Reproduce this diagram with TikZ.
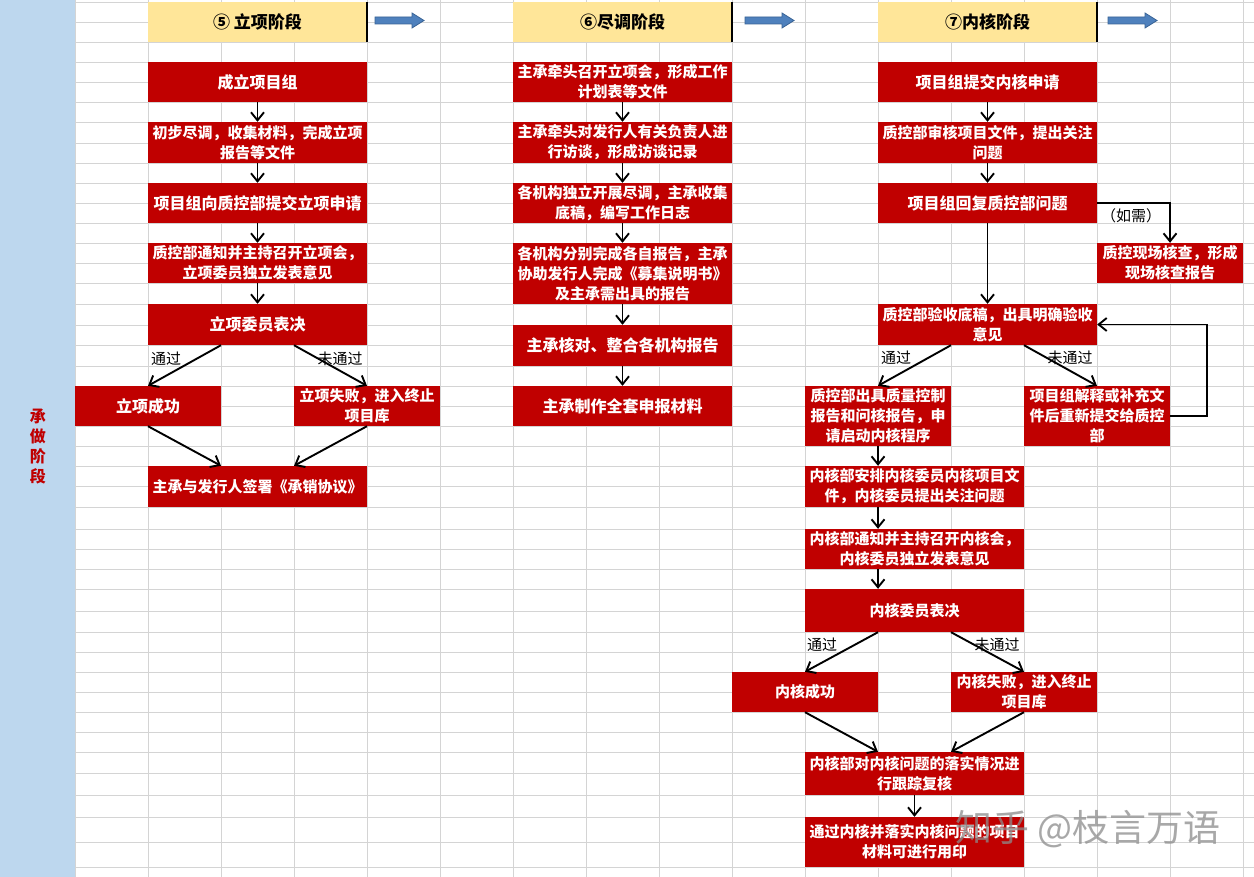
\documentclass[tikz,border=0pt]{standalone}
\usepackage{fontspec}
\newfontfamily\cjk{Noto Sans CJK SC}
\usetikzlibrary{arrows.meta}

\definecolor{boxred}{HTML}{C00000}
\definecolor{hdryellow}{HTML}{FFE699}
\definecolor{sideblue}{HTML}{BDD7EE}
\definecolor{cellline}{HTML}{D4D4D4}
\definecolor{arrblue}{HTML}{4F81BD}
\definecolor{arredge}{HTML}{3A6496}

\tikzset{
    box/.style={fill=boxred, text=white, font=\cjk\bfseries\fontsize{15}{20}\selectfont,
        align=center, inner sep=0pt, minimum width=219pt, minimum height=40pt},
    half/.style={minimum width=146pt},
    big/.style={font=\cjk\bfseries\fontsize{16}{20}\selectfont},
    hdr/.style={fill=hdryellow, font=\cjk\bfseries\fontsize{17}{20}\selectfont,
        inner sep=0pt, minimum width=219pt, minimum height=40pt},
    lbl/.style={font=\cjk\fontsize{15}{18}\selectfont, inner sep=0pt},
    arr/.style={line width=1.9pt, -{Straight Barb[length=8pt,width=13pt]}},
    gridln/.style={draw=cellline, line width=0.8pt},
    stagearr/.style={fill=arrblue, draw=arredge, line width=0.8pt},
    wmark/.style={font=\cjk\fontsize{37}{40}\selectfont, text=black!45, opacity=0.75, inner sep=0pt}
}

\begin{document}
\begin{tikzpicture}[x=1pt, y=-1pt]
    \useasboundingbox (0,0) rectangle (1254,877);
    \fill[white] (0,0) rectangle (1254,877);

    % sheet grid
    \foreach \gx in {75,148,...,1243}
        \draw[gridln] (\gx,0) -- (\gx,877);
    \foreach \gy in {2,22,42,62,82,102,122,143,163,183,203,223,243,263,283,304,325,345,366,386,406,426,446,466,486,507,529,549,569,589,611,632,652,672,692,712,732,752,773,795,817,842,867}
        \draw[gridln] (0,\gy) -- (1254,\gy);

    \fill[sideblue] (0,0) rectangle (75,877);
    \node[font=\cjk\bfseries\fontsize{16}{20}\selectfont, text=boxred, align=center, inner sep=0pt] (side) at (38,447) {承\\做\\阶\\段};

    % stage headers
    \node[hdr] (hd5) at (257.5,22) {⑤ 立项阶段};
    \node[hdr] (hd6) at (622.5,22) {⑥尽调阶段};
    \node[hdr] (hd7) at (987.5,22) {⑦内核阶段};
    \foreach \hd in {hd5,hd6,hd7}
        \draw[line width=1.6pt] (\hd.north east) -- (\hd.south east);
    \foreach \ax in {375,745,1108}
        \filldraw[stagearr] (\ax,17) -- ++(37,0) -- ++(0,-4) -- ++(12,7.5) -- ++(-12,7.5) -- ++(0,-4) -- ++(-37,0) -- cycle;

    % 立项
    \node[box,big] (lxteam) at (257.5,82) {成立项目组};
    \node[box, minimum height=41pt] (lxdd) at (257.5,142.5) {初步尽调，收集材料，完成立项\\报告等文件};
    \node[box,big] (lxapply) at (257.5,203) {项目组向质控部提交立项申请};
    \node[box] (lxmeet) at (257.5,263) {质控部通知并主持召开立项会，\\立项委员独立发表意见};
    \node[box,big, minimum height=41pt] (lxvote) at (257.5,324.5) {立项委员表决};
    \node[box,big,half] (lxok) at (148,406) {立项成功};
    \node[box,half] (lxfail) at (367,406) {立项失败，进入终止\\项目库};
    \node[box, minimum height=41pt] (lxsign) at (257.5,486.5) {主承与发行人签署《承销协议》};

    \draw[arr] (lxteam.south) -- (lxdd.north);
    \draw[arr] (lxdd.south) -- (lxapply.north);
    \draw[arr] (lxapply.south) -- (lxmeet.north);
    \draw[arr] (lxmeet.south) -- (lxvote.north);
    \draw[arr] ([xshift=-36.5pt]lxvote.south) -- (lxok.north);
    \draw[arr] ([xshift=36.5pt]lxvote.south) -- (lxfail.north);
    \draw[arr] (lxok.south) -- ([xshift=-36.5pt]lxsign.north);
    \draw[arr] (lxfail.south) -- ([xshift=36.5pt]lxsign.north);
    \node[lbl] (lxyes) at (166,359) {通过};
    \node[lbl] (lxno) at (340,359) {未通过};

    % 尽调
    \node[box] (ddkick) at (622.5,82) {主承牵头召开立项会，形成工作\\计划表等文件};
    \node[box, minimum height=41pt] (ddtalk) at (622.5,142.5) {主承牵头对发行人有关负责人进\\行访谈，形成访谈记录};
    \node[box] (ddwork) at (622.5,203) {各机构独立开展尽调，主承收集\\底稿，编写工作日志};
    \node[box, minimum height=61pt] (ddrep) at (622.5,273.5) {各机构分别完成各自报告，主承\\协助发行人完成《募集说明书》\\及主承需出具的报告};
    \node[box,big, minimum height=41pt] (ddcheck) at (622.5,345.5) {主承核对、整合各机构报告};
    \node[box,big] (ddmake) at (622.5,406) {主承制作全套申报材料};

    \draw[arr] (ddkick.south) -- (ddtalk.north);
    \draw[arr] (ddtalk.south) -- (ddwork.north);
    \draw[arr] (ddwork.south) -- (ddrep.north);
    \draw[arr] (ddrep.south) -- (ddcheck.north);
    \draw[arr] (ddcheck.south) -- (ddmake.north);

    % 内核
    \node[box,big] (nhapply) at (987.5,82) {项目组提交内核申请};
    \node[box, minimum height=41pt] (nhaudit) at (987.5,142.5) {质控部审核项目文件，提出关注\\问题};
    \node[box,big] (nhreply) at (987.5,203) {项目组回复质控部问题};
    \node[box,half] (nhsite) at (1170,263) {质控现场核查，形成\\现场核查报告};
    \node[box, minimum height=41pt] (nhcheck) at (987.5,324.5) {质控部验收底稿，出具明确验收\\意见};
    \node[box,half, minimum height=60pt] (nhqc) at (878,416) {质控部出具质量控制\\报告和问核报告，申\\请启动内核程序};
    \node[box,half, minimum height=60pt] (nhfix) at (1097,416) {项目组解释或补充文\\件后重新提交给质控\\部};
    \node[box, minimum height=41pt] (nhplan) at (914.5,486.5) {内核部安排内核委员内核项目文\\件，内核委员提出关注问题};
    \node[box] (nhmeet) at (914.5,549) {内核部通知并主持召开内核会，\\内核委员独立发表意见};
    \node[box, minimum height=43pt] (nhvote) at (914.5,610.5) {内核委员表决};
    \node[box,half] (nhok) at (805,692) {内核成功};
    \node[box,half] (nhfail) at (1024,692) {内核失败，进入终止\\项目库};
    \node[box, minimum height=43pt] (nhtrack) at (914.5,773.5) {内核部对内核问题的落实情况进\\行跟踪复核};
    \node[box, minimum height=50pt] (nhseal) at (914.5,842) {通过内核并落实内核问题的项目\\材料可进行用印};

    \draw[arr] (nhapply.south) -- (nhaudit.north);
    \draw[arr] (nhaudit.south) -- (nhreply.north);
    \draw[arr] (nhreply.south) -- (nhcheck.north);
    \draw[arr] (nhreply.east) -| (nhsite.north);
    \node[lbl] (nhneed) at (1131,216) {（如需）};
    \draw[arr] ([xshift=-36.5pt]nhcheck.south) -- (nhqc.north);
    \draw[arr] ([xshift=36.5pt]nhcheck.south) -- (nhfix.north);
    \draw[arr] (nhfix.east) -- ++(37,0) |- (nhcheck.east);
    \node[lbl] (nhyes) at (896,358) {通过};
    \node[lbl] (nhno) at (1070,358) {未通过};
    \draw[arr] (nhqc.south) -- ([xshift=-36.5pt]nhplan.north);
    \draw[arr] ([xshift=-36.5pt]nhplan.south) -- ([xshift=-36.5pt]nhmeet.north);
    \draw[arr] ([xshift=-36.5pt]nhmeet.south) -- ([xshift=-36.5pt]nhvote.north);
    \draw[arr] ([xshift=-36.5pt]nhvote.south) -- (nhok.north);
    \draw[arr] ([xshift=36.5pt]nhvote.south) -- (nhfail.north);
    \node[lbl] (nhyes2) at (822,645) {通过};
    \node[lbl] (nhno2) at (997,645) {未通过};
    \draw[arr] (nhok.south) -- ([xshift=-36.5pt]nhtrack.north);
    \draw[arr] (nhfail.south) -- ([xshift=36.5pt]nhtrack.north);
    \draw[arr] (nhtrack.south) -- (nhseal.north);

    \node[wmark] (zhihu) at (1088,829) {知乎 @枝言万语};
\end{tikzpicture}
\end{document}
